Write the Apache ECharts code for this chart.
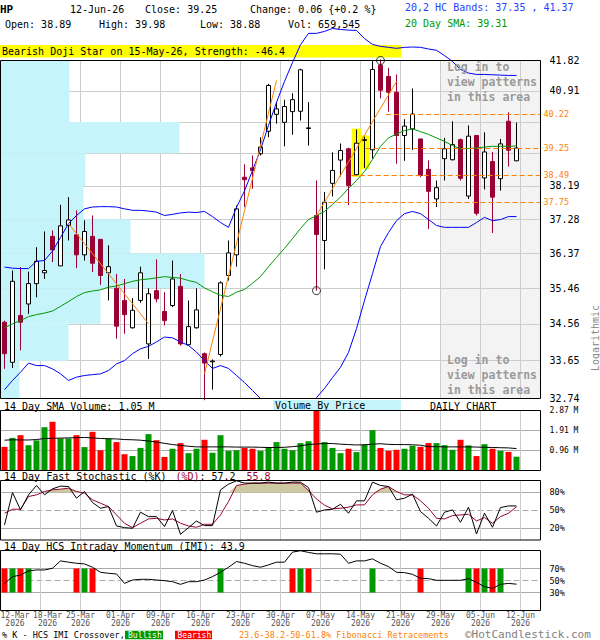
<!DOCTYPE html>
<html>
<head>
<meta charset="utf-8">
<title>HP Daily Chart</title>
<script src="https://cdn.jsdelivr.net/npm/echarts@6.0.0/dist/echarts.min.js"></script>
<style>
html, body { margin: 0; padding: 0; background: #ffffff; }
#chart { width: 600px; height: 640px; }
</style>
</head>
<body>
<div id="chart"></div>
<script>
// ---------------- data ----------------
const dateTicks = ['12-Mar','18-Mar','25-Mar','01-Apr','09-Apr','16-Apr','23-Apr','30-Apr','07-May','14-May','21-May','29-May','05-Jun','12-Jun'];
const tickYear = '2026';

const opens = [34.60,33.61,34.77,35.06,35.58,35.86,36.82,36.04,37.11,36.86,
 36.33,36.82,36.74,35.86,35.46,35.15,34.46,35.15,34.06,35.40,
 34.87,35.02,35.51,34.04,34.46,33.82,33.62,33.80,35.79,36.33,
 38.43,38.69,39.09,39.73,40.22,39.99,40.30,40.31,39.81,37.38,
 36.71,38.26,38.91,39.23,38.50,39.47,39.20,41.68,41.34,40.87,
 39.61,39.80,39.51,38.65,37.83,38.95,38.92,39.49,37.91,39.61,
 38.41,38.87,38.39,40.02,38.89];
const highs = [34.64,35.92,36.01,35.89,36.53,36.95,36.98,37.67,37.88,37.52,
 37.25,37.38,36.74,36.58,35.83,35.70,35.21,36.02,35.46,36.21,
 35.36,36.18,35.83,35.15,35.46,33.85,33.68,35.64,36.71,37.65,
 38.79,39.04,39.56,41.12,40.58,40.65,40.84,41.57,40.58,38.34,
 38.02,39.13,39.38,39.26,39.78,39.58,41.82,41.85,41.60,41.40,
 40.08,40.98,39.51,38.90,38.34,39.54,40.02,39.52,39.90,39.61,
 39.70,39.14,39.51,40.28,39.98];
const lows = [33.45,33.47,33.90,34.81,35.23,35.70,36.14,36.04,36.71,35.98,
 36.18,35.88,35.55,35.15,34.19,34.31,34.44,35.09,33.69,35.10,
 34.52,34.98,34.02,34.02,34.44,32.70,32.95,33.75,35.66,36.02,
 37.61,38.11,39.04,39.56,39.95,39.30,39.63,40.04,39.32,35.40,
 35.95,37.90,38.45,37.66,38.47,38.69,38.95,40.69,40.30,38.81,
 38.89,39.20,38.43,37.02,37.61,38.34,38.90,38.34,37.83,37.38,
 38.09,36.91,38.06,38.73,38.88];
const closes = [33.82,35.64,34.60,35.58,36.16,35.92,36.46,37.10,37.26,36.33,
 36.95,36.11,35.79,36.02,34.50,34.79,34.90,35.86,35.32,35.19,
 34.64,35.70,34.06,34.49,34.91,33.59,33.64,35.60,36.38,37.56,
 38.36,38.62,39.28,41.07,40.38,40.45,40.65,41.54,39.83,36.87,
 37.74,38.62,39.18,38.20,39.39,39.49,41.55,40.93,40.87,39.61,
 39.88,40.23,38.48,38.04,38.14,39.23,39.35,38.40,39.59,37.44,
 39.14,37.88,39.37,39.19,39.25];

const volumes = [1.13,1.56,1.69,1.21,1.44,2.07,2.33,1.53,1.53,1.69,
 1.12,1.85,0.97,1.53,1.36,0.78,0.69,1.08,1.74,1.45,
 0.65,1.04,1.31,0.83,1.04,1.47,0.85,1.69,0.94,0.97,
 1.08,1.04,0.94,1.12,1.36,1.04,0.97,1.31,1.40,2.85,
 1.36,1.08,0.83,1.04,0.88,1.24,1.93,1.08,0.94,0.99,
 1.04,1.18,1.13,1.31,1.31,1.21,0.99,1.47,1.20,0.69,
 1.26,1.04,0.94,0.89,0.66];
const volumeSma = [1.45,1.47,1.46,1.46,1.48,1.53,1.54,1.55,1.56,1.57,
 1.58,1.56,1.53,1.52,1.51,1.48,1.47,1.45,1.41,1.36,
 1.30,1.24,1.20,1.16,1.13,1.13,1.13,1.13,1.13,1.12,
 1.12,1.12,1.11,1.10,1.10,1.11,1.14,1.18,1.24,1.27,
 1.29,1.29,1.26,1.24,1.22,1.23,1.26,1.28,1.25,1.24,
 1.24,1.23,1.21,1.14,1.14,1.13,1.13,1.13,1.13,1.12,
 1.11,1.10,1.09,1.08,1.05];

const sma20 = [34.46,34.56,34.64,34.74,34.79,34.83,34.88,35.00,35.12,35.25,
 35.35,35.39,35.42,35.49,35.52,35.58,35.64,35.68,35.70,35.73,
 35.76,35.74,35.72,35.66,35.61,35.47,35.37,35.28,35.25,35.36,
 35.43,35.59,35.76,36.02,36.26,36.50,36.76,37.03,37.27,37.38,
 37.49,37.68,37.88,38.12,38.34,38.59,38.93,39.30,39.54,39.65,
 39.75,39.80,39.72,39.64,39.54,39.44,39.32,39.23,39.24,39.25,
 39.28,39.30,39.30,39.30,39.31];
const bandUpper = [36.01,35.98,35.97,35.97,36.16,36.18,36.43,36.79,37.16,37.38,
 37.56,37.61,37.62,37.62,37.61,37.56,37.52,37.52,37.50,37.47,
 37.38,37.41,37.45,37.47,37.46,37.49,37.35,37.19,37.06,37.60,
 38.05,38.62,39.20,39.90,40.57,41.19,41.76,42.30,42.65,42.65,
 42.71,42.80,42.77,42.75,42.74,42.49,42.31,42.25,42.22,42.19,
 42.22,42.23,42.22,42.17,42.13,41.97,41.79,41.55,41.44,41.40,
 41.40,41.39,41.38,41.37,41.37];
const bandLower = [32.95,33.17,33.37,33.59,33.53,33.53,33.45,33.33,33.17,33.25,
 33.29,33.31,33.33,33.41,33.57,33.65,33.82,33.94,34.00,34.11,
 34.23,34.21,34.11,34.02,33.86,33.65,33.46,33.53,33.46,33.29,
 33.12,32.93,32.74,32.55,32.41,32.34,32.31,32.41,32.57,32.76,
 32.98,33.24,33.49,33.85,34.44,35.15,35.84,36.55,36.92,37.24,
 37.43,37.49,37.43,37.27,37.11,37.06,37.06,37.06,37.06,37.19,
 37.33,37.24,37.27,37.35,37.35];

const stochK = [25.3,79.8,50.6,75.9,91.6,75.9,86.0,90.5,89.9,70.3,
 81.5,63.0,53.4,56.2,23.6,20.8,19.7,46.7,39.3,39.3,
 22.5,49.5,9.6,20.8,32.0,24.2,24.2,84.3,93.8,99.5,
 95.6,95.6,95.6,97.3,95.6,95.6,97.3,97.2,88.0,46.7,
 50.6,51.7,60.1,45.0,65.8,65.8,97.2,91.6,89.9,67.5,
 70.3,77.0,47.8,36.5,23.6,46.7,50.6,29.8,55.1,10.1,
 45.0,21.4,54.5,57.3,57.2];
const stochD = [45.0,51.7,51.7,73.1,75.9,81.5,84.3,85.4,87.1,81.5,
 78.7,67.5,61.8,56.2,42.2,28.1,20.8,28.1,35.4,36.5,
 33.7,35.4,28.1,23.6,21.4,26.4,26.4,42.2,64.6,91.6,
 93.9,95.6,95.6,95.6,95.6,95.6,95.6,95.6,83.0,69.0,
 58.5,52.3,53.4,55.1,59.0,59.0,75.9,85.4,89.9,81.5,
 75.9,75.9,65.8,53.4,36.5,35.4,41.0,42.2,43.3,32.0,
 37.7,28.1,39.3,45.0,55.8];
const imi = [45.2,56.4,59.2,65.9,67.6,67.6,70.4,82.7,80.5,78.7,
 77.6,72.1,63.7,62.0,60.9,45.2,50.8,52.0,52.0,50.8,
 49.7,48.0,43.6,48.0,48.0,50.8,56.4,63.7,72.1,81.6,
 78.7,74.8,72.1,76.0,80.5,80.5,97.3,99.6,96.8,94.5,
 94.5,94.5,93.9,78.7,82.7,82.7,86.1,78.7,73.2,63.7,
 63.1,60.3,53.6,53.1,50.3,50.3,50.3,50.3,53.1,46.9,
 39.7,36.9,43.6,45.2,43.9];
const imiBullish = [1,3,10,27,37,46,58,60,62];
const imiBearish = [0,2,9,11,36,38,52,59,61];

const priceTicks = [41.82,40.91,40.00,39.10,38.19,37.28,36.37,35.46,34.56,33.65,32.74];
const priceTickLabels = [41.82,40.91,38.19,37.28,36.37,35.46,34.56,33.65,32.74];
const volumeTicks = [0.96,1.91,2.87];
const stochLevels = [20,50,80];
const imiLevels = [30,50,70];
const vbpVolume = [6.9,6.9,17.9,8.5,8.3,13.0,20.4,10.0,6.8,1.9];
const fibLevels = [40.22,39.25,38.49,37.75];
const fibStartIdx = [47.7,45.1,43.4,40.5];
const zigzags = [[[8,37.16],[18,34.56]],[[25,33.33],[34,41.22]],[[39,37.38],[49,41.19]]];
const pivotMarks = [[39,35.40],[47,41.82]];
const patternIdx = [44,45];
const hiddenFromIdx = 54.5;

// ---------------- helpers ----------------
const FONT = "'DejaVu Sans Mono', 'Liberation Mono', monospace";
const fnt = (size, weight) => (weight ? weight + ' ' : '') + size + 'px ' + FONT;
const N = opens.length;
const X = i => i + 0.5;
const L = Math.log;
const X_MIN = 0, X_MAX = 67.5, X_STEP = 5;
const Y_MAX = L(priceTicks[0]), Y_MIN = L(priceTicks[priceTicks.length - 1]);
const GRID = '#cccccc', PANEL = '#aaaaaa';
const UP = '#009900', DOWN = '#ff0000', CRIMSON = '#990033', BLUE = '#0000ff', ORANGE = '#ff8000';
const OB = stochLevels[2];

const grids = [[60.5, 338], [410.5, 60], [480.5, 59.5], [550.5, 60]].map(([top, height]) => ({
  left: 0.5, top: top, width: 540, height: height, show: true, borderColor: '#000', borderWidth: 1,
  backgroundColor: 'transparent', z: 10, containLabel: false, outerBoundsMode: 'none'
}));

const xAx = gi => ({
  type: 'value', gridIndex: gi, min: X_MIN, max: X_MAX, interval: X_STEP, z: 1,
  axisLine: { show: false }, axisTick: { show: false }, axisLabel: { show: false },
  splitLine: { show: true, lineStyle: { color: GRID, width: 1 } }
});
const DATE_COLOR = '#555555';
const tickVals = dateTicks.map((d, k) => k * X_STEP);
function dateFmt(v) {
  const k = Math.round(v / X_STEP);
  if (Math.abs(v - k * X_STEP) > 1e-6 || k >= dateTicks.length) return '';
  if (k === 0) return '{first|' + dateTicks[0] + '}\n{first|' + tickYear + '}';
  if (k === 1) return '{second|' + dateTicks[1] + '}\n{second|' + tickYear + '}';
  return dateTicks[k] + '\n' + tickYear;
}
const dateLabel = values => ({
  show: true, margin: 1, fontSize: 8, fontFamily: FONT, color: DATE_COLOR, lineHeight: 8.3,
  hideOverlap: false, customValues: values, formatter: dateFmt,
  rich: {
    first: { padding: [0, 0, 0, 29], fontSize: 8, fontFamily: FONT, color: DATE_COLOR, lineHeight: 8.3 },
    second: { padding: [0, 0, 0, 14], fontSize: 8, fontFamily: FONT, color: DATE_COLOR, lineHeight: 8.3 }
  }
});
// date axis (labels from the 2nd tick on) + an overlaid axis carrying only the first date
const xDates = Object.assign(xAx(3), { position: 'bottom', axisLabel: dateLabel(tickVals.slice(1)) });
const xFirstDate = {
  type: 'value', gridIndex: 3, position: 'bottom', offset: 0, min: X_MIN, max: X_MAX,
  axisLine: { show: false }, axisTick: { show: false }, splitLine: { show: false },
  axisLabel: dateLabel(tickVals.slice(0, 1))
};

const lab = (size, extra) => Object.assign({ fontSize: size, fontFamily: FONT, color: '#000', margin: 9 }, extra);
const levelAxis = (gi, levels) => ({
  type: 'value', gridIndex: gi, position: 'right', min: 0, max: 100,
  axisLine: { show: false },
  axisTick: { show: false, customValues: levels.filter(v => v !== 50) },
  axisLabel: lab(8.5, { customValues: levels, formatter: v => v + '%' }),
  splitLine: { show: true, lineStyle: { color: PANEL, width: 1 } }
});
const midAxis = gi => ({
  type: 'value', gridIndex: gi, position: 'left', min: 0, max: 100,
  axisLine: { show: false }, axisLabel: { show: false },
  axisTick: { show: false, customValues: [50] },
  splitLine: { show: true, lineStyle: { color: PANEL, width: 1, type: [6, 3] } }
});

const lineS = (xi, yi, data, color, extra) => Object.assign({
  type: 'line', xAxisIndex: xi, yAxisIndex: yi, data: data, symbol: 'none', silent: true,
  lineStyle: { color: color, width: 1 }, z: 3
}, extra || {});

const series = [
  // patterns hidden area (gray)
  {
    type: 'custom', xAxisIndex: 0, yAxisIndex: 0, z: 0.5, silent: true,
    data: [[X(hiddenFromIdx), Y_MIN]], encode: { x: 0, y: 1 },
    renderItem: (p, api) => {
      const a = api.coord([api.value(0), Y_MAX]);
      const b = api.coord([X_MAX, Y_MIN]);
      return { type: 'group', children: [
        { type: 'rect', shape: { x: a[0], y: a[1], width: b[0] - a[0], height: b[1] - a[1] }, style: { fill: '#f3f3f3' } },
        { type: 'line', shape: { x1: a[0], y1: a[1], x2: a[0], y2: b[1] }, style: { stroke: '#999999', lineWidth: 1 } }
      ] };
    }
  },
  // volume by price
  {
    type: 'custom', xAxisIndex: 4, yAxisIndex: 0, z: 1.5, silent: true,
    data: vbpVolume.map((v, j) => [L(priceTicks[j + 1]), L(priceTicks[j]), v]),
    encode: { x: 2, y: [0, 1] },
    renderItem: (p, api) => {
      const a = api.coord([0, api.value(1)]);
      const b = api.coord([api.value(2), api.value(0)]);
      return { type: 'rect', shape: { x: a[0], y: a[1], width: b[0] - a[0], height: b[1] - a[1] }, style: { fill: '#c6f4fb' } };
    }
  },
  // pattern highlight
  {
    type: 'custom', xAxisIndex: 0, yAxisIndex: 0, z: 1.8, silent: true,
    data: patternIdx.map(i => [X(i), L(lows[i]), L(highs[i])]),
    encode: { x: 0, y: [1, 2] },
    renderItem: (p, api) => {
      const x = api.value(0);
      const a = api.coord([x, api.value(2)]);
      const b = api.coord([x, api.value(1)]);
      const w = api.size([1.2, 0])[0];
      return { type: 'rect', shape: { x: a[0] - w / 2, y: a[1] - 1, width: w, height: b[1] - a[1] + 2 }, style: { fill: '#ffff00' } };
    }
  },
  // candles
  {
    type: 'candlestick', name: 'HP', xAxisIndex: 0, yAxisIndex: 0, z: 2, barWidth: 5, silent: true,
    data: opens.map((o, i) => [X(i), L(o), L(closes[i]), L(lows[i]), L(highs[i])]),
    encode: { x: 0, y: [1, 2, 3, 4] },
    itemStyle: { color: '#ffffff', color0: CRIMSON, borderColor: '#000000', borderColor0: CRIMSON, borderWidth: 1 }
  },
  lineS(0, 0, sma20.map((v, i) => [X(i), L(v)]), '#009900'),
  lineS(0, 0, bandLower.map((v, i) => [X(i), L(v)]), BLUE),
  lineS(0, 0, bandUpper.map((v, i) => [X(i), L(v)]), BLUE, {
    clip: false,
    markLine: {
      silent: true, symbol: ['none', 'none'], animation: false,
      lineStyle: { color: ORANGE, type: [5, 3], width: 1 },
      label: { show: true, position: 'end', distance: 3, color: ORANGE, fontSize: 8.5, fontFamily: FONT,
        formatter: p => fibLevels[p.dataIndex].toFixed(2) },
      emphasis: { disabled: true },
      data: fibLevels.map((f, j) => [{ coord: [X(fibStartIdx[j]), L(f)] }, { coord: [X_MAX, L(f)] }])
    }
  })
];
zigzags.forEach(seg => series.push(lineS(0, 0, seg.map(([i, p]) => [X(i), L(p)]), ORANGE, { z: 4 })));
series.push({
  type: 'scatter', xAxisIndex: 0, yAxisIndex: 0, z: 5, clip: false, silent: true, symbol: 'circle', symbolSize: 8,
  itemStyle: { color: 'rgba(255,255,255,0)', borderColor: '#000', borderWidth: 1 },
  data: pivotMarks.map(([i, p]) => [X(i), L(p)])
});
// volume
series.push({
  type: 'bar', xAxisIndex: 1, yAxisIndex: 1, barWidth: 6, silent: true, z: 2,
  data: volumes.map((v, i) => ({ value: [X(i), v], itemStyle: { color: closes[i] >= opens[i] ? UP : DOWN } }))
});
series.push(lineS(1, 1, volumeSma.map((v, i) => [X(i), v]), '#000'));
// stochastic
series.push({
  type: 'custom', xAxisIndex: 2, yAxisIndex: 2, z: 1, silent: true, data: [[X(0), OB]], encode: { x: 0, y: 1 },
  renderItem: (p, api) => {
    const pts = stochD.map((d, i) => api.coord([X(i), Math.max(d, OB)]));
    pts.push(api.coord([X(N - 1), OB]));
    pts.push(api.coord([X(0), OB]));
    return { type: 'polygon', shape: { points: pts }, style: { fill: '#cfc9a1' } };
  }
});
series.push(lineS(2, 2, stochD.map((v, i) => [X(i), v]), CRIMSON));
series.push(lineS(2, 2, stochK.map((v, i) => [X(i), v]), '#000', { z: 4 }));
// IMI
const imiCross = imiBullish.map(i => [X(i), 1]).concat(imiBearish.map(i => [X(i), 0]));
series.push({
  type: 'custom', xAxisIndex: 3, yAxisIndex: 3, z: 2, silent: true, data: imiCross, encode: { x: 0, y: 1 },
  renderItem: (p, api) => {
    const x = api.value(0);
    const a = api.coord([x, imiLevels[2]]);
    const b = api.coord([x, imiLevels[0]]);
    return { type: 'rect', shape: { x: a[0] - 3, y: a[1], width: 6, height: b[1] - a[1] }, style: { fill: api.value(1) ? UP : DOWN } };
  }
});
series.push(lineS(3, 3, imi.map((v, i) => [X(i), v]), '#000'));

// ---------------- texts ----------------
const T = (x, y, text, font, fill, extra) => Object.assign({
  type: 'text', x: x, y: y, z: 20, silent: true,
  style: { text: text, font: font, fill: fill || '#000', align: 'left', verticalAlign: 'middle', textAlign: 'left', textVerticalAlign: 'middle' }
}, extra || {});
const R = (x, y, w, h, fill) => ({ type: 'rect', z: 0, silent: true, shape: { x: x, y: y, width: w, height: h }, style: { fill: fill } });
const loginLines = ['Log in to', 'view patterns', 'in this area'];
const copyright = T(465, 634.5, '\u00A9HotCandlestick.com', fnt(11), '#808080');
copyright.style.lineHeight = 11;
const graphic = [
  T(0, 9, 'HP', fnt(11, 'bold')),
  T(70, 9, '12-Jun-26', fnt(10)),
  T(145, 9, 'Close: 39.25', fnt(10)),
  T(250, 9, 'Change: 0.06 {+0.2 %}', fnt(10)),
  T(5, 24, 'Open: 38.89', fnt(10)),
  T(99, 24, 'High: 39.98', fnt(10)),
  T(200, 24, 'Low: 38.88', fnt(10)),
  T(288, 24, 'Vol: 659,545', fnt(10)),
  T(405, 7, '20,2 HC Bands: 37.35 , 41.37', fnt(10), '#1f3fff'),
  T(405, 23, '20 Day SMA: 39.31', fnt(10), '#009900'),
  R(0, 45, 401, 12.5, '#ffff00'),
  T(2, 51.3, 'Bearish Doji Star on 15-May-26, Strength: -46.4', fnt(10)),
  T(4, 406, '14 Day SMA Volume: 1.05 M', fnt(10)),
  R(273, 400, 128, 10.5, '#c6f4fb'),
  T(275, 405.5, 'Volume By Price', fnt(10)),
  T(430, 406, 'DAILY CHART', fnt(10)),
  T(4, 476, '14 Day Fast Stochastic (%K)', fnt(10)),
  T(175.5, 476, '(%D)', fnt(10), CRIMSON),
  T(199.5, 476, ': 57.2', fnt(10)),
  T(246.5, 476, '55.8', fnt(10), CRIMSON),
  T(4, 546, '14 Day HCS Intraday Momentum (IMI): 43.9', fnt(10)),
  T(2, 635, '% K - HCS IMI Crossover,', fnt(8.5)),
  R(125, 630.7, 38, 8.6, UP),
  T(128, 635, 'Bullish', fnt(8), '#ffffff'),
  R(175, 630.7, 37, 8.6, DOWN),
  T(177.5, 635, 'Bearish', fnt(8), '#ffffff'),
  T(239, 635, '23.6-38.2-50-61.8% Fibonacci Retracements', fnt(8.5), ORANGE),
  copyright,
  {
    type: 'text', x: 595, y: 338, z: 20, silent: true, rotation: Math.PI / 2,
    style: { text: 'Logarithmic', font: fnt(10), fill: '#888888', align: 'center', verticalAlign: 'middle', textAlign: 'center', textVerticalAlign: 'middle' }
  }
];
loginLines.forEach((s, k) => {
  graphic.push(T(447, 67 + 15 * k, s, fnt(11.5, 'bold'), '#9a9a9a'));
  graphic.push(T(447, 359.5 + 15 * k, s, fnt(11.5, 'bold'), '#9a9a9a'));
});

// ---------------- chart ----------------
const chart = echarts.init(document.getElementById('chart'), null, { renderer: 'svg', width: 600, height: 640 });
chart.setOption({
  animation: false,
  backgroundColor: '#ffffff',
  textStyle: { fontFamily: FONT },
  grid: grids,
  xAxis: [xAx(0), xAx(1), xAx(2), xDates, { type: 'value', gridIndex: 0, min: 0, max: 54, show: false }, xFirstDate],
  yAxis: [
    {
      type: 'value', gridIndex: 0, position: 'right', min: Y_MIN, max: Y_MAX, z: 1,
      axisLine: { show: false },
      axisTick: { show: false, customValues: priceTicks.map(L) },
      axisLabel: lab(10, { customValues: priceTickLabels.map(L), padding: [0, 0, 6, 0], formatter: v => Math.exp(v).toFixed(2) }),
      splitLine: { show: true, lineStyle: { color: GRID, width: 1 } }
    },
    {
      type: 'value', gridIndex: 1, position: 'right', min: 0, max: volumeTicks[volumeTicks.length - 1],
      axisLine: { show: false },
      axisTick: { show: false, customValues: volumeTicks },
      axisLabel: lab(8, { customValues: volumeTicks, formatter: v => v.toFixed(2) + ' M' }),
      splitLine: { show: true, lineStyle: { color: PANEL, width: 1 } }
    },
    levelAxis(2, stochLevels),
    levelAxis(3, imiLevels),
    midAxis(2),
    midAxis(3)
  ],
  series: series,
  graphic: graphic
});
</script>
</body>
</html>
